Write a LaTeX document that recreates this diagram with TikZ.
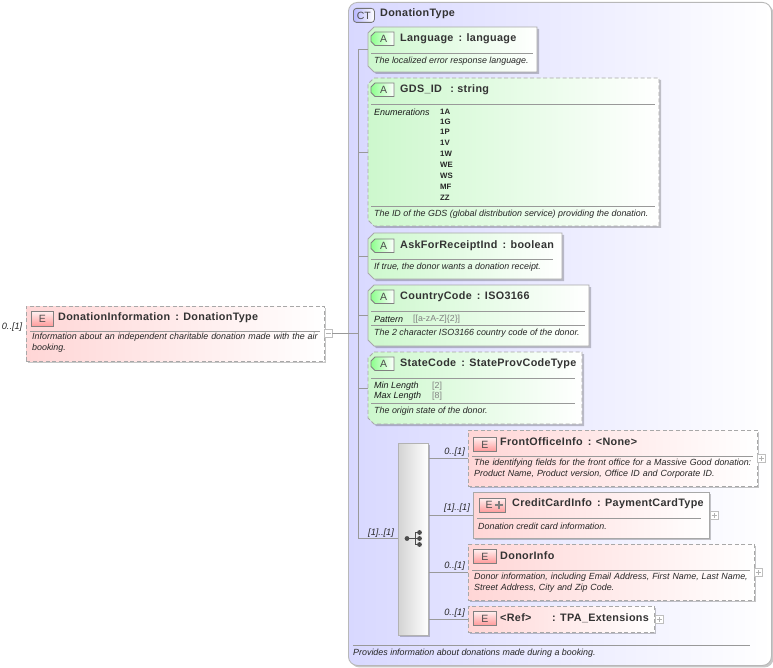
\documentclass[tikz,border=0pt]{standalone}
\usepackage{fontspec}
\setmainfont{Liberation Sans}
\newfontfamily\titlefont[LetterSpace=3]{Liberation Sans Bold}
\usetikzlibrary{shadows,calc}
\definecolor{pinkbg}{HTML}{FFD6D6}
\definecolor{greenbg}{HTML}{CDF8CD}
\definecolor{lav}{HTML}{D8D8FF}
\definecolor{bordergray}{HTML}{A8A8A8}
\definecolor{linegray}{HTML}{999999}
\definecolor{valgray}{HTML}{808080}
\tikzset{
  softshadow/.style={drop shadow={shadow xshift=2pt,shadow yshift=-2pt,fill=black,opacity=.22}},
  solidbox/.style={draw=bordergray,line width=.9pt,softshadow},
  dashbox/.style={draw=bordergray,line width=.9pt,dash pattern=on 4pt off 2.5pt,softshadow},
  elemfill/.style={left color=pinkbg,middle color=pinkbg!45!white,right color=white},
  attrfill/.style={left color=greenbg,middle color=greenbg!40!white,right color=white},
  rectshape/.style={rectangle,inner sep=0pt},
  ghost/.style={rectangle,inner sep=0pt},
  titletext/.style={anchor=west,inner sep=0pt,yshift=-.6pt,font=\titlefont\fontsize{10.8}{12}\selectfont,text=black!80},
  desctext/.style={anchor=west,inner sep=0pt,yshift=-.4pt,font=\itshape\fontsize{8.9}{10.4}\selectfont,text=black!85},
  facetname/.style={anchor=west,inner sep=0pt,font=\itshape\fontsize{9}{10}\selectfont,text=black!90},
  facetval/.style={anchor=west,inner sep=0pt,font=\fontsize{8.8}{10}\selectfont,text=valgray},
  enumval/.style={anchor=west,inner sep=0pt,font=\bfseries\fontsize{7.8}{9}\selectfont,text=black!85},
  occ/.style={anchor=east,inner sep=0pt,font=\itshape\fontsize{9.2}{10}\selectfont,text=black!85},
  badgetext/.style={inner sep=0pt,font=\fontsize{10.5}{10}\selectfont,text=black!70},
  sep/.style={draw=linegray,line width=.7pt},
  conn/.style={draw=linegray,line width=.8pt},
  ebadge/.style={rectangle,inner sep=0pt,draw=black!50,line width=.8pt,top color=red!6,bottom color=red!40!white},
  abadgefill/.style={draw=black!50,line width=.8pt,left color=green!45!white,right color=white},
  expbox/.style={rectangle,inner sep=0pt,minimum width=8pt,minimum height=8pt,draw=black!25,line width=.6pt,fill=white},
  expplus/.style={expbox,path picture={\draw[black!30,line width=.5pt]
     ([xshift=1.5pt]path picture bounding box.west)--([xshift=-1.5pt]path picture bounding box.east)
     ([yshift=1.5pt]path picture bounding box.south)--([yshift=-1.5pt]path picture bounding box.north);}},
  expminus/.style={expbox,path picture={\draw[black!30,line width=.5pt]
     ([xshift=1.5pt]path picture bounding box.west)--([xshift=-1.5pt]path picture bounding box.east);}},
}
% \bx{name}{x1}{y1}{x2}{y2}{styles}
\newcommand{\bx}[6]{%
  \pgfmathsetmacro{\bw}{#4-#2}\pgfmathsetmacro{\bh}{#5-#3}%
  \node[#6,minimum width=\bw pt,minimum height=\bh pt,anchor=north west] (#1) at (#2,#3) {};}
% \chbx{name}{x1}{y1}{x2}{y2}{chamfer}{styles}: box with its two left corners cut
\newcommand{\chbx}[7]{%
  \pgfmathsetmacro{\xa}{#2+#6}\pgfmathsetmacro{\ya}{#3+#6}\pgfmathsetmacro{\yb}{#5-#6}%
  \path[#7] (\xa,#3) -- (#4,#3) -- (#4,#5) -- (\xa,#5) -- (#2,\yb) -- (#2,\ya) -- cycle;
  \bx{#1}{#2}{#3}{#4}{#5}{ghost}}
\newcommand{\abadge}[3]{% name, x1, y1
  \pgfmathsetmacro{\xe}{#2+23}\pgfmathsetmacro{\ye}{#3+13.5}\pgfmathsetmacro{\xc}{#2+12.5}\pgfmathsetmacro{\yc}{#3+7}%
  \chbx{#1}{#2}{#3}{\xe}{\ye}{4}{abadgefill}
  \node[badgetext] (#1l) at (\xc,\yc) {A};}
\newcommand{\sepl}[3]{\draw[sep] (#1,#3) -- (#2,#3);}
\begin{document}
\begin{tikzpicture}[x=1pt,y=-1pt]
\useasboundingbox (0,0) rectangle (773,668);
% outer complex type
\node[rectangle,rounded corners=9pt,inner sep=0pt,draw=black!28,line width=.9pt,left color=lav,right color=white,softshadow,minimum width=423pt,minimum height=663pt,anchor=north west] (ct) at (348,2) {};
\bx{ctb}{353}{8}{374}{22}{rectangle,rounded corners=3pt,inner sep=0pt,draw=black!55,line width=.8pt,left color=lav!85!blue,right color=white}
\node[badgetext] (ctl) at (ctb.center) {CT};
\node[titletext] (ctt) at (380,13.5) {DonationType};
\sepl{353}{750}{645}
\node[desctext] (ctd) at (353,653) {Provides information about donations made during a booking.};

% spine
\coordinate (rootj) at (358,333.5);
\coordinate (top) at (358,49.5);
\coordinate (bot) at (358,538);

% sequence compositor
\bx{seqb}{398}{443}{428}{635}{rectshape,draw=black!30,line width=.7pt,left color=black!17,right color=white,softshadow}

% root element
\bx{root}{26}{306}{324}{361}{rectshape,elemfill,dashbox}
\bx{rootb}{31}{311}{53}{326}{ebadge}
\node[badgetext] (rootbl) at (rootb.center) {E};
\node[titletext] (roott) at (58,317) {DonationInformation\, : DonationType};
\sepl{30}{320}{331}
\node[desctext,align=left,text width=295pt,anchor=north west,yshift=.4pt] (rootd) at (32,333) {Information about an independent charitable donation made with the air booking.};
\node[occ] (rooto) at (22.5,327) {0..[1]};
\node[expminus] (rootx) at (328,333.5) {};

% Language
\chbx{lang}{368}{27}{537}{72}{6}{attrfill,solidbox}
\abadge{langb}{371}{32}
\node[titletext] (langt) at (400,38.5) {Language\, : language};
\sepl{371}{533}{53}
\node[desctext] (langd) at (374,61) {The localized error response language.};

% GDS_ID
\chbx{gds}{368}{78}{659}{226}{6}{attrfill,dashbox}
\abadge{gdsb}{371}{83}
\node[titletext] (gdst) at (400,89.5) {GDS\_ID\ \ \,: string};
\sepl{371}{655}{104}
\node[facetname] (gdsf) at (374,112) {Enumerations};
\node[enumval] (e1) at (440,111.5) {1A};
\node[enumval] (e2) at (440,121.5) {1G};
\node[enumval] (e3) at (440,132) {1P};
\node[enumval] (e4) at (440,143) {1V};
\node[enumval] (e5) at (440,154) {1W};
\node[enumval] (e6) at (440,165) {WE};
\node[enumval] (e7) at (440,176) {WS};
\node[enumval] (e8) at (440,187) {MF};
\node[enumval] (e9) at (440,198) {ZZ};
\sepl{371}{655}{206}
\node[desctext] (gdsd) at (374,214) {The ID of the GDS (global distribution service) providing the donation.};

% AskForReceiptInd
\chbx{ask}{368}{233}{562}{279}{6}{attrfill,solidbox}
\abadge{askb}{371}{239}
\node[titletext] (askt) at (400,245) {AskForReceiptInd\, : boolean};
\sepl{371}{553}{259}
\node[desctext] (askd) at (374,267) {If true, the donor wants a donation receipt.};

% CountryCode
\chbx{cc}{368}{285}{589}{346}{6}{attrfill,solidbox}
\abadge{ccb}{371}{290}
\node[titletext] (cct) at (400,296.5) {CountryCode\, : ISO3166};
\sepl{371}{585}{311}
\node[facetname] (ccf) at (374,319) {Pattern};
\node[facetval] (ccv) at (413,319) {[[a-zA-Z]\{2\}]};
\sepl{371}{585}{325}
\node[desctext] (ccd) at (374,333) {The 2 character ISO3166 country code of the donor.};

% StateCode
\chbx{st}{368}{352}{582}{424}{6}{attrfill,dashbox}
\abadge{stb}{371}{357}
\node[titletext] (stt) at (400,363.5) {StateCode\, : StateProvCodeType};
\sepl{371}{575}{378}
\node[facetname] (stf1) at (374,386) {Min Length};
\node[facetval] (stv1) at (432,386) {[2]};
\node[facetname] (stf2) at (374,396) {Max Length};
\node[facetval] (stv2) at (432,396) {[8]};
\sepl{371}{575}{403}
\node[desctext] (std) at (374,411) {The origin state of the donor.};

% FrontOfficeInfo
\bx{fo}{468}{430}{757}{486}{rectshape,elemfill,dashbox}
\bx{fob}{473}{437}{496}{451}{ebadge}
\node[badgetext] (fobl) at (fob.center) {E};
\node[titletext] (fot) at (500,441.5) {FrontOfficeInfo\, : <None>};
\sepl{472}{753}{456}
\node[desctext,align=left,text width=285pt,anchor=north west,yshift=.4pt] (fod) at (474,459) {The identifying fields for the front office for a Massive Good donation: Product Name, Product version, Office ID and Corporate ID.};
\node[expplus] (fox) at (761,458) {};

% CreditCardInfo
\bx{cr}{473}{492}{709}{538}{rectshape,elemfill,solidbox}
\bx{crb}{479}{498}{505}{512}{ebadge}
\node[badgetext] (crbl) at (489,505) {E};
\draw[black!50,line width=2pt] (494.5,505) -- (503,505) (498.7,501) -- (498.7,509);
\node[titletext] (crt) at (512,503.5) {CreditCardInfo\, : PaymentCardType};
\sepl{477}{701}{518}
\node[desctext] (crd) at (478,526) {Donation credit card information.};
\node[expplus] (crx) at (714,515) {};

% DonorInfo
\bx{dn}{468}{544}{754}{600}{rectshape,elemfill,dashbox}
\bx{dnb}{473}{549}{496}{563}{ebadge}
\node[badgetext] (dnbl) at (dnb.center) {E};
\node[titletext] (dnt) at (500,555) {DonorInfo};
\sepl{472}{750}{570}
\node[desctext,align=left,text width=280pt,anchor=north west,yshift=.4pt] (dnd) at (474,573) {Donor information, including Email Address, First Name, Last Name, Street Address, City and Zip Code.};
\node[expplus] (dnx) at (758,572) {};

% Ref
\bx{rf}{468}{606}{654}{632}{rectshape,elemfill,dashbox}
\bx{rfb}{473}{611}{496}{625}{ebadge}
\node[badgetext] (rfbl) at (rfb.center) {E};
\node[titletext] (rft) at (500,617.5) {<Ref>};
\node[titletext] (rft2) at (552,617.5) {: TPA\_Extensions};
\node[expplus] (rfx) at (659,619) {};

% connectors
\draw[conn] (rootx.east) -- (rootj);
\draw[conn] (top) -- (bot);
\draw[conn] (top |- lang.west) -- (lang.west);
\draw[conn] (top |- gds.west) -- (gds.west);
\draw[conn] (top |- ask.west) -- (ask.west);
\draw[conn] (top |- cc.west) -- (cc.west);
\draw[conn] (top |- st.west) -- (st.west);
\draw[conn] (bot) -- (bot -| seqb.west);
\node[occ] (seqo) at (394,533) {[1]..[1]};
\draw[conn] (seqb.east |- fo.west) -- (fo.west);
\draw[conn] (seqb.east |- cr.west) -- (cr.west);
\draw[conn] (seqb.east |- dn.west) -- (dn.west);
\draw[conn] (seqb.east |- rf.west) -- (rf.west);
\node[occ] (o1) at (465,452) {0..[1]};
\node[occ] (o2) at (470,508) {[1]..[1]};
\node[occ] (o3) at (465,566) {0..[1]};
\node[occ] (o4) at (465,613) {0..[1]};

% sequence icon
\fill[black!70] (407,538.5) circle (2.4pt) (419.5,532.5) circle (2.4pt) (419.5,538.5) circle (2.4pt) (419.5,544.5) circle (2.4pt);
\draw[black!70,line width=1pt] (407,538.5) -- (419.5,538.5) (415,532.5) -- (419.5,532.5) (415,544.5) -- (419.5,544.5) (415,532.5) -- (415,544.5);
\end{tikzpicture}
\end{document}
